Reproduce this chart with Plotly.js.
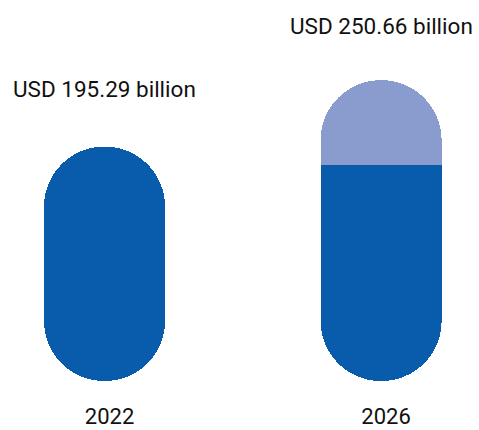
<!DOCTYPE html>
<html>
<head>
<meta charset="utf-8">
<script src="https://cdn.plot.ly/plotly-3.0.1.min.js"></script>
<style>html,body{margin:0;padding:0;background:#fff;}#chart{width:479px;height:430px;}</style>
</head>
<body>
<div id="chart"></div>
<script>
// Data
var years = ["2022", "2026"];
var totals = [195.29, 250.66];
var baseSegment2026 = 180;          // dark-blue part of the 2026 capsule (estimated)
var labels = ["USD 195.29 billion", "USD 250.66 billion"];

var blue = "#085CAB";
var lilac = "#8A9BCD";
var xs = [0, 1];
var coverFrom = baseSegment2026 / 2;

var traces = [
  // 2026 lilac top capsule
  { type: "bar", x: [xs[1]], base: [coverFrom], y: [totals[1] - coverFrom],
    marker: { color: lilac, cornerradius: "50%", line: { width: 0 } }, hoverinfo: "skip" },
  // blue capsules: 2022 full, 2026 dark part
  { type: "bar", x: xs, base: [0, 0], y: [totals[0], baseSegment2026],
    marker: { color: blue, cornerradius: "50%", line: { width: 0 } }, hoverinfo: "skip" },
  // 2026 square top of the blue part
  { type: "bar", x: [xs[1]], base: [coverFrom], y: [baseSegment2026 - coverFrom],
    marker: { color: blue, line: { width: 0 } }, hoverinfo: "skip" }
];

var labelShift = [43, 39];
var annotations = labels.map(function (t, i) {
  return { x: xs[i], y: totals[i], text: t, showarrow: false, xanchor: "center", yanchor: "bottom",
           yshift: labelShift[i], font: { family: "Roboto, sans-serif", size: 22.5, color: "#111" } };
});

var layout = {
  width: 479, height: 430,
  margin: { l: 0, r: 0, t: 0, b: 49, pad: 0 },
  paper_bgcolor: "#fff", plot_bgcolor: "#fff",
  barmode: "overlay", bargap: 0, showlegend: false,
  xaxis: { range: [-0.378, 1.354], tickvals: xs, ticktext: years, showgrid: false, zeroline: false,
           showline: false, ticks: "", ticklabelshift: 5, ticklabelstandoff: 20,
           tickfont: { family: "Roboto, sans-serif", size: 22, color: "#111" }, fixedrange: true },
  yaxis: { range: [0, 317.5], visible: false, fixedrange: true },
  annotations: annotations
};
traces.forEach(function (t) { t.width = 0.4376; });

Plotly.newPlot("chart", traces, layout, { displayModeBar: false, staticPlot: true });
</script>
</body>
</html>
